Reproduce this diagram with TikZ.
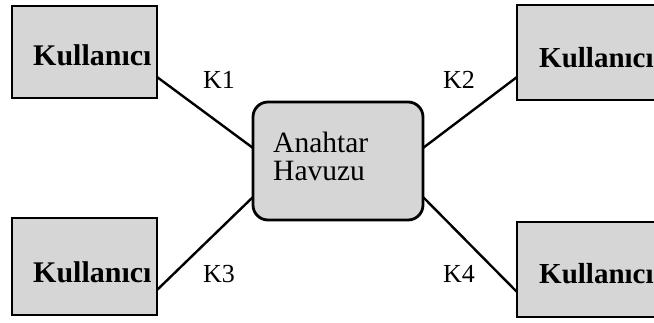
\documentclass[tikz,border=0pt]{standalone}
\usepackage{fontspec}
\setmainfont{Liberation Serif}
\usetikzlibrary{calc}
\definecolor{boxgray}{RGB}{214,214,214}
\tikzset{
  userbox/.style={draw=black, line width=2.8pt, fill=boxgray, inner sep=0pt},
  poolbox/.style={draw=black, line width=2.8pt, fill=boxgray, rounded corners=15pt, inner sep=0pt},
  usertext/.style={anchor=base west, inner sep=0pt, font=\fontsize{30}{30}\selectfont\bfseries},
  edgetext/.style={anchor=base west, inner sep=0pt, font=\fontsize{29}{29}\selectfont\bfseries},
  pooltext/.style={anchor=base west, inner sep=0pt, font=\fontsize{29.5}{28}\selectfont, align=left},
  keylabel/.style={anchor=base west, inner sep=0pt, font=\fontsize{26}{26}\selectfont},
  link/.style={line width=2.4pt}
}
\begin{document}
\begin{tikzpicture}[x=1pt,y=-1pt]
  \useasboundingbox (0,0) rectangle (654,322);
  \begin{scope}
    \clip (0,0) rectangle (654,322);
    % user boxes
    \path[userbox] (12,6) rectangle (157,98);
    \coordinate (tlnw) at (12,6); \coordinate (tlse) at (157,98);
    \path[userbox] (517,5) rectangle (670,100);
    \coordinate (trnw) at (517,5); \coordinate (trse) at (670,100);
    \path[userbox] (12,218) rectangle (157,315);
    \coordinate (blnw) at (12,218); \coordinate (blse) at (157,315);
    \path[userbox] (517,222) rectangle (670,317);
    \coordinate (brnw) at (517,222); \coordinate (brse) at (670,317);
    % key pool
    \path[poolbox] (253,102) rectangle (423,220);
    \coordinate (cnw) at (253,102); \coordinate (cse) at (423,220);

    % connectors between users and the pool
    \draw[link] (tlse |- 0,77) -- (cnw |- 0,148);
    \draw[link] (trnw |- 0,77) -- (cse |- 0,148);
    \draw[link] (tlse |- 0,290) -- (cnw |- 0,197);
    \draw[link] (trnw |- 0,292) -- (cse |- 0,197);

    % texts
    \node[usertext] (u1) at (33,65) {Kullanıcı};
    \node[edgetext] (u2) at (539,67) {Kullanıcı};
    \node[usertext] (u3) at (33,282) {Kullanıcı};
    \node[edgetext] (u4) at (539,283) {Kullanıcı};
    \node[pooltext] (p1) at (273,152) {Anahtar};
    \node[pooltext] (p2) at (273,180) {Havuzu};

    \node[keylabel] (k1) at (203,88) {K1};
    \node[keylabel] (k2) at (443,88) {K2};
    \node[keylabel] (k3) at (203,282) {K3};
    \node[keylabel] (k4) at (443,282) {K4};
  \end{scope}
\end{tikzpicture}
\end{document}
